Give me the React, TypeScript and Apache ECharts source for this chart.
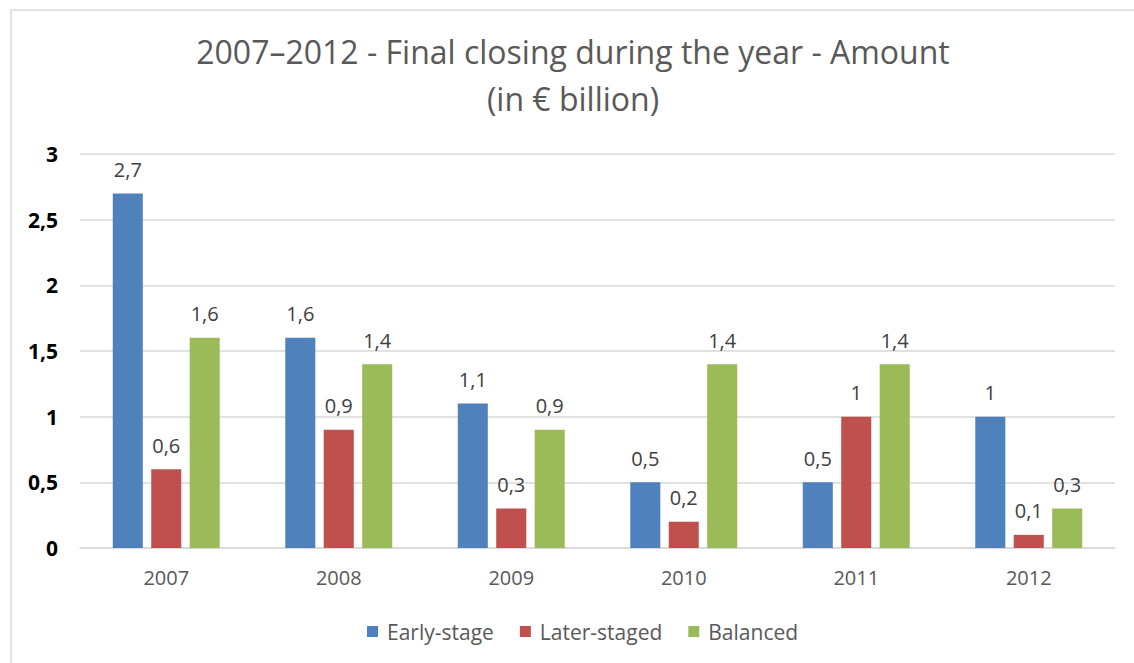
import React, { useEffect, useRef } from "react";
import * as echarts from "echarts";

const categories = ["2007", "2008", "2009", "2010", "2011", "2012"];
const seriesNames = ["Early-stage", "Later-staged", "Balanced"];
const earlyStage = [2.7, 1.6, 1.1, 0.5, 0.5, 1];
const laterStaged = [0.6, 0.9, 0.3, 0.2, 1, 0.1];
const balanced = [1.6, 1.4, 0.9, 1.4, 1.4, 0.3];
const colors = ["#4f81bd", "#c0504d", "#9bbb59"];
const titleText = "2007–2012 - Final closing during the year - Amount\n(in € billion)";

const FONT = "'Open Sans', sans-serif";
const fmt = (v: number) => String(v).replace(".", ",");

export default function App() {
  const ref = useRef<HTMLDivElement>(null);
  useEffect(() => {
    if (!ref.current) return;
    const chart = echarts.init(ref.current, null, { renderer: "svg" });
    const data = [earlyStage, laterStaged, balanced];
    chart.setOption({
      animation: false,
      backgroundColor: "#ffffff",
      textStyle: { fontFamily: FONT },
      title: {
        text: titleText,
        left: 568,
        textAlign: "center",
        top: 23,
        textStyle: {
          fontFamily: FONT,
          fontSize: 32,
          fontWeight: "normal",
          color: "#595959",
          lineHeight: 47,
        },
      },
      graphic: [
        {
          type: "rect",
          shape: { x: 11, y: 10, width: 1140, height: 700 },
          style: { fill: "none", stroke: "#d9d9d9", lineWidth: 1.5 },
          silent: true,
        },
      ],
      legend: {
        data: seriesNames,
        top: 616,
        left: 362,
        itemWidth: 11,
        itemHeight: 11,
        itemGap: 26,
        icon: "rect",
        textStyle: { fontFamily: FONT, fontSize: 21, color: "#595959", padding: [0, 0, 0, 4] },
      },
      grid: { left: 80, right: 19, top: 154, bottom: 115 },
      xAxis: {
        type: "category",
        data: categories,
        axisLine: { lineStyle: { color: "#d9d9d9", width: 1.5 } },
        axisTick: { show: false },
        axisLabel: { fontFamily: FONT, fontSize: 20, color: "#595959", margin: 19 },
      },
      yAxis: {
        type: "value",
        min: 0,
        max: 3,
        interval: 0.5,
        axisLine: { show: false },
        axisTick: { show: false },
        splitLine: { lineStyle: { color: "#d9d9d9", width: 1.5 } },
        axisLabel: {
          fontFamily: FONT,
          fontSize: 21,
          fontWeight: "bold",
          color: "#000000",
          margin: 22,
          formatter: (v: number) => fmt(v),
        },
      },
      series: seriesNames.map((name, i) => ({
        name,
        type: "bar",
        data: data[i],
        itemStyle: { color: colors[i] },
        barGap: "28%",
        barCategoryGap: "38%",
        label: {
          show: true,
          position: "top",
          distance: 14,
          fontFamily: FONT,
          fontSize: 20,
          color: "#404040",
          formatter: (p: any) => fmt(p.value),
        },
      })),
    });
    return () => chart.dispose();
  }, []);
  return (
    <div
      ref={ref}
      style={{ position: "fixed", left: 0, top: 0, width: 1134, height: 663 }}
    />
  );
}
